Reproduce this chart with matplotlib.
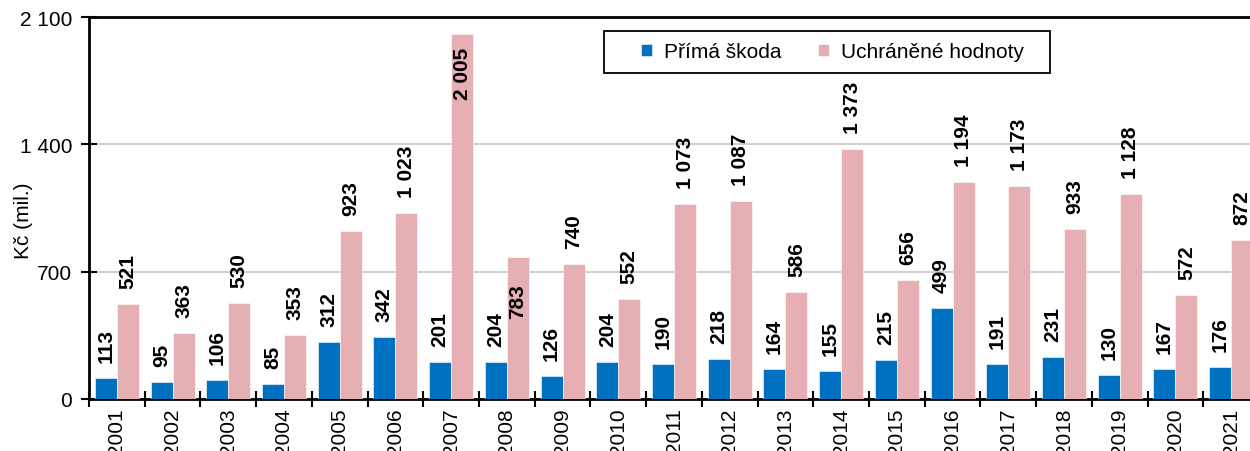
import matplotlib
matplotlib.use("Agg")
import matplotlib.pyplot as plt
from matplotlib.ticker import FuncFormatter
from matplotlib.transforms import offset_copy
from matplotlib.patches import Rectangle
import numpy as np

plt.rcParams['font.family'] = ['Liberation Sans', 'DejaVu Sans']

years = [str(y) for y in range(2001, 2022)]
prima_skoda = [113, 95, 106, 85, 312, 342, 201, 204, 126, 204, 190, 218, 164, 155, 215, 499, 191, 231, 130, 167, 176]
uchranene = [521, 363, 530, 353, 923, 1023, 2005, 783, 740, 552, 1073, 1087, 586, 1373, 656, 1194, 1173, 933, 1128, 572, 872]
series_names = ["Přímá škoda", "Uchráněné hodnoty"]
colors = ["#0070C0", "#E6AFB3"]

W, H = 1250, 452
fig = plt.figure(figsize=(W / 100, H / 100), dpi=100)
ax = fig.add_axes([89 / W, 52 / H, 1170 / W, 382 / H])

x = np.arange(len(years))
w = 0.395
ax.bar(x - w / 2, prima_skoda, w, color=colors[0], edgecolor="white", linewidth=0.4,
       label=series_names[0], zorder=3)
ax.bar(x + w / 2, uchranene, w, color=colors[1], edgecolor="white", linewidth=0.4,
       label=series_names[1], zorder=3)

def fmt(v, pos=None):
    return f"{int(v):,}".replace(",", " ")

# value labels: above the bar, or tucked inside where the bar is too tall
inside_offsets = {"2007": 12, "2008": 27}
for xs, vals, is_second in ((x - w / 2, prima_skoda, False), (x + w / 2, uchranene, True)):
    for xi, v, yr in zip(xs, vals, years):
        if is_second and yr in inside_offsets:
            tr = offset_copy(ax.transData, fig=fig, x=0, y=-inside_offsets[yr], units='dots')
            va = 'top'
        else:
            tr = offset_copy(ax.transData, fig=fig, x=0, y=16, units='dots')
            va = 'bottom'
        ax.text(xi, v, fmt(v), rotation=90, ha='center', va=va, fontsize=15,
                fontweight='bold', transform=tr, zorder=5)

ax.set_xlim(-0.5, len(years) - 0.5)
ax.set_ylim(0, 2100)
ax.set_yticks([0, 700, 1400, 2100])
ax.yaxis.set_major_formatter(FuncFormatter(fmt))
ax.set_xticks(x)
ax.set_xticklabels(years, rotation=90, fontsize=15)
ax.set_xticks(np.arange(-0.5, len(years)), minor=True)
ax.tick_params(axis='x', which='major', length=0, pad=6)
ax.tick_params(axis='x', which='minor', direction='inout', length=12, width=1.5)
ax.tick_params(axis='y', direction='inout', length=12, width=1.5, labelsize=15, pad=6)
ax.grid(axis='y', color='#CCCCCC', linewidth=1.3, zorder=0)
ax.set_axisbelow(True)
for s in ['left', 'bottom', 'top']:
    ax.spines[s].set_linewidth(2)
    ax.spines[s].set_color('black')
ax.spines['right'].set_visible(False)
ax.set_ylabel("Kč (mil.)", fontsize=15)
ax.yaxis.set_label_coords((33 - 89) / 1170, (400 - 221) / 382)

# legend box drawn separately so its padding can be set freely
frame = Rectangle((604 / W, 1 - 74 / H), (1050 - 604) / W, 42 / H, transform=fig.transFigure,
                  facecolor='white', edgecolor='black', linewidth=1.3, zorder=9)
fig.add_artist(frame)
leg = ax.legend(loc='center left', bbox_to_anchor=(641 / W, 1 - 53 / H), bbox_transform=fig.transFigure,
                ncol=2, fontsize=15, frameon=False,
                handlelength=0.55, handleheight=0.55, columnspacing=1.75, handletextpad=0.55,
                borderpad=0, borderaxespad=0)
leg.set_zorder(10)
leg.remove()
fig.add_artist(leg)

fig.savefig("out.png", dpi=100)
